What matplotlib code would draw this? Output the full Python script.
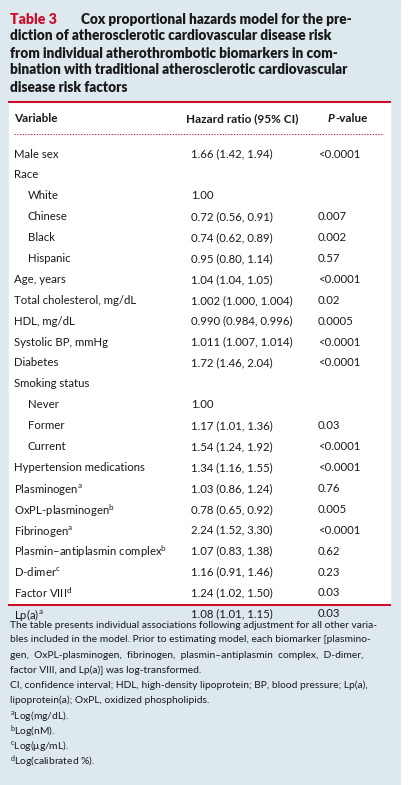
import matplotlib.pyplot as plt
from matplotlib.patches import Rectangle

plt.rcParams["font.family"] = ["Lato", "DejaVu Sans"]
plt.rcParams["mathtext.fontset"] = "custom"
plt.rcParams["mathtext.rm"] = "Lato"
plt.rcParams["mathtext.it"] = "Lato:italic"
plt.rcParams["mathtext.bf"] = "Lato:bold"

TITLE_LINES = [
    "Cox proportional hazards model for the pre-",
    "diction of atherosclerotic cardiovascular disease risk",
    "from individual atherothrombotic biomarkers in com-",
    "bination with traditional atherosclerotic cardiovascular",
    "disease risk factors",
]
HEADERS = ["Variable", "Hazard ratio (95% CI)", "-value"]
VARIABLES = [
    "Male sex", "Race", "White", "Chinese", "Black", "Hispanic", "Age, years",
    "Total cholesterol, mg/dL", "HDL, mg/dL", "Systolic BP, mmHg", "Diabetes",
    "Smoking status", "Never", "Former", "Current", "Hypertension medications",
    "Plasminogen$^{\\mathrm{a}}$", "OxPL-plasminogen$^{\\mathrm{b}}$", "Fibrinogen$^{\\mathrm{a}}$",
    "Plasmin\u2013antiplasmin complex$^{\\mathrm{b}}$", "D-dimer$^{\\mathrm{c}}$",
    "Factor VIII$^{\\mathrm{d}}$", "Lp(a)$^{\\mathrm{a}}$",
]
INDENTED = {"White", "Chinese", "Black", "Hispanic", "Never", "Former", "Current"}
HAZARD = [
    "1.66 (1.42, 1.94)", "", "1.00", "0.72 (0.56, 0.91)", "0.74 (0.62, 0.89)",
    "0.95 (0.80, 1.14)", "1.04 (1.04, 1.05)", "1.002 (1.000, 1.004)",
    "0.990 (0.984, 0.996)", "1.011 (1.007, 1.014)", "1.72 (1.46, 2.04)", "",
    "1.00", "1.17 (1.01, 1.36)", "1.54 (1.24, 1.92)", "1.34 (1.16, 1.55)",
    "1.03 (0.86, 1.24)", "0.78 (0.65, 0.92)", "2.24 (1.52, 3.30)",
    "1.07 (0.83, 1.38)", "1.16 (0.91, 1.46)", "1.24 (1.02, 1.50)",
    "1.08 (1.01, 1.15)",
]
PVALUES = [
    "<0.0001", "", "", "0.007", "0.002", "0.57", "<0.0001", "0.02", "0.0005",
    "<0.0001", "<0.0001", "", "", "0.03", "<0.0001", "<0.0001", "0.76", "0.005",
    "<0.0001", "0.62", "0.23", "0.03", "0.03",
]
FOOTNOTES = [
    "The table presents individual associations following adjustment for all other varia-",
    "bles included in the model. Prior to estimating model, each biomarker [plasmino-",
    "gen,  OxPL-plasminogen,  fibrinogen,  plasmin\u2013antiplasmin  complex,  D-dimer,",
    "factor VIII, and Lp(a)] was log-transformed.",
    "CI, confidence interval; HDL, high-density lipoprotein; BP, blood pressure; Lp(a),",
    "lipoprotein(a); OxPL, oxidized phospholipids.",
    "$^{\\mathrm{a}}$Log(mg/dL).",
    "$^{\\mathrm{b}}$Log(nM).",
    "$^{\\mathrm{c}}$Log(\u03bcg/mL).",
    "$^{\\mathrm{d}}$Log(calibrated %).",
]

RED = "#c8102e"
BG = "#dde9ee"
TXT = "#1a1a1a"

fig = plt.figure(figsize=(4.17, 7.85), dpi=100)
ax = fig.add_axes([0, 0, 1, 1])
ax.set_xlim(0, 417)
ax.set_ylim(785, 0)
ax.axis("off")

ax.add_patch(Rectangle((0, 0), 400, 785, color=BG, zorder=0))
ax.add_patch(Rectangle((9, 102), 381, 503, color="white", zorder=1))

kw = dict(va="center_baseline", color=TXT)

# title
ax.text(10, 18, "Table 3", color=RED, fontsize=10.2, fontweight="heavy", va="center_baseline")
for i, line in enumerate(TITLE_LINES):
    x = 81 if i == 0 else 10
    ax.text(x, 18 + i * 17, line, fontsize=9.8, fontweight="heavy", **kw)

# header
ax.plot([9, 390], [102, 102], color=RED, lw=1.5, zorder=2)
ax.text(14, 118, HEADERS[0], fontsize=8.5, fontweight="bold", **kw)
ax.text(186, 118, HEADERS[1], fontsize=8.5, fontweight="bold", **kw)
ax.text(328, 118, "P", fontsize=8.5, fontweight="bold", style="italic", **kw)
ax.text(335, 118, HEADERS[2], fontsize=8.5, fontweight="bold", **kw)
ax.plot([14, 383], [134, 134], color=RED, lw=0.8, ls=(0, (1, 1.5)), zorder=2)

# rows
y0, dy = 153, 20.9
for i, (var, hr, p) in enumerate(zip(VARIABLES, HAZARD, PVALUES)):
    y = y0 + i * dy
    x = 28 if var in INDENTED else 14
    ax.text(x, y, var, fontsize=8.2, **kw)
    ax.text(191, y, hr, fontsize=8.2, **kw)
    ax.text(318, y, p, fontsize=8.2, **kw)
ax.plot([9, 390], [605, 605], color=RED, lw=1.5, zorder=2)

# footnotes
for i, line in enumerate(FOOTNOTES):
    ax.text(10, 624 + i * 15, line, fontsize=7.4, **kw)

fig.savefig("out.png", dpi=100)
